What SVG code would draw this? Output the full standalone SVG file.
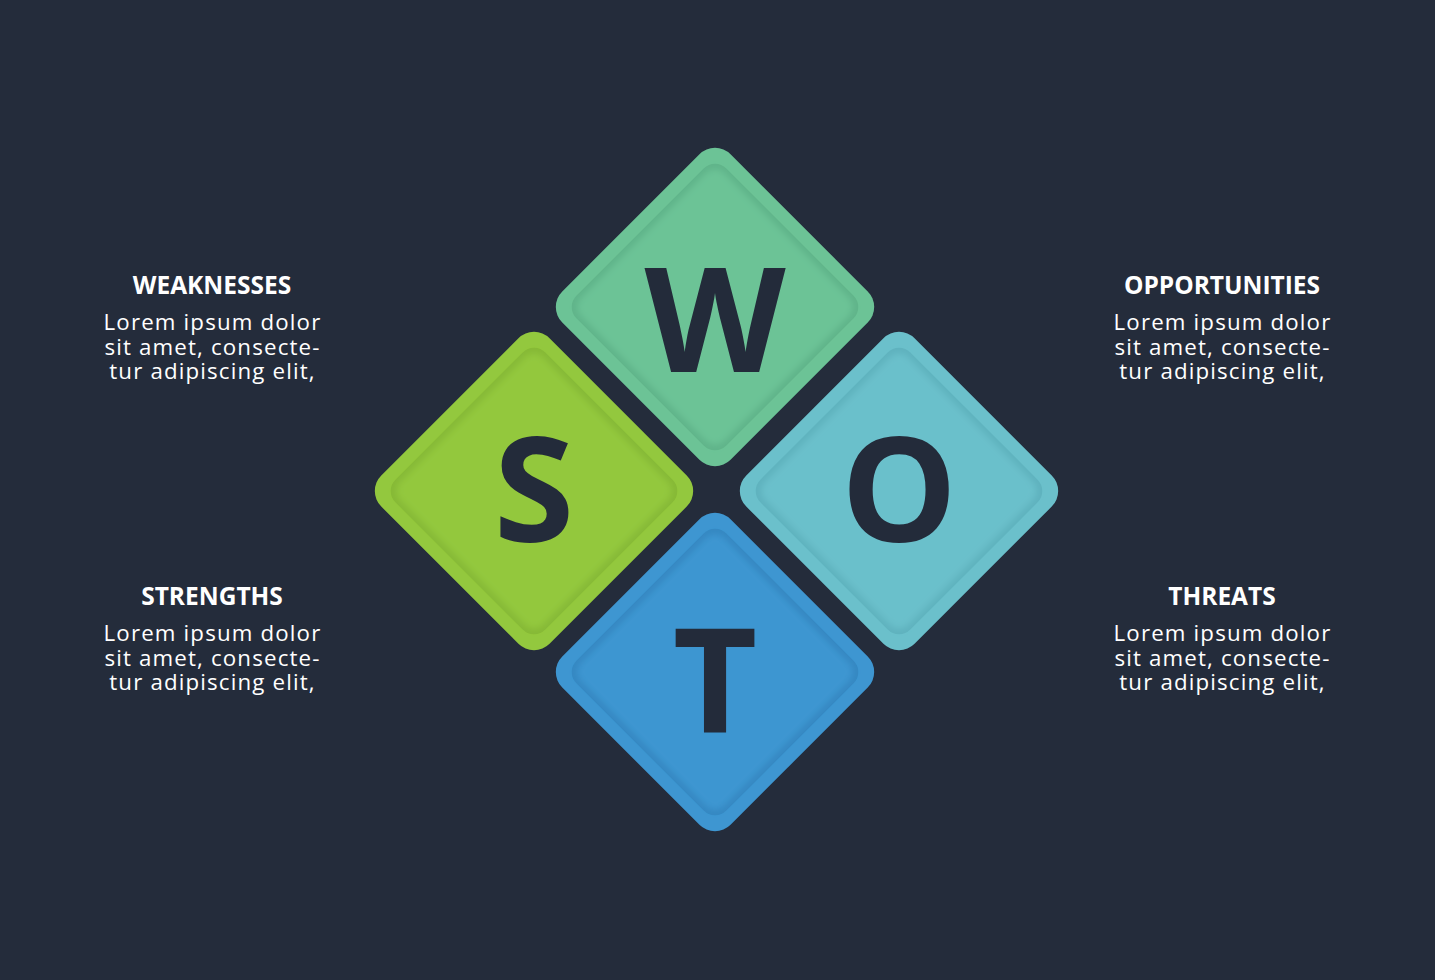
<svg xmlns="http://www.w3.org/2000/svg" width="1435" height="980" viewBox="0 0 1435 980">
<defs>
<filter id="soft" x="-10%" y="-10%" width="120%" height="120%"><feGaussianBlur stdDeviation="3"/></filter>
<style>
.bg{fill:#242c3b}
.letter{font-family:"Open Sans","Liberation Sans",sans-serif;font-weight:700;font-size:146px;fill:#232b3a;text-anchor:middle}
.head{font-family:"Open Sans","Liberation Sans",sans-serif;font-weight:700;font-size:24.5px;fill:#ffffff;text-anchor:middle}
.body{font-family:"Open Sans","Liberation Sans",sans-serif;font-weight:400;font-size:22.3px;letter-spacing:1.15px;fill:#ffffff;text-anchor:middle}
</style>
</defs>
<rect class="bg" x="0" y="0" width="1435" height="980"/>

<g id="node-w">
<rect x="-119" y="-119" width="238" height="238" rx="22" fill="#6cc396" transform="translate(715,307) rotate(45)"/>
<rect x="-106" y="-106" width="212" height="212" rx="16" fill="#60b48a" transform="translate(715,307) rotate(45)"/>
<rect x="-101" y="-101" width="202" height="202" rx="13" fill="#6cc396" filter="url(#soft)" transform="translate(715,307) rotate(45)"/>
<text class="letter" x="715" y="372">W</text>
</g>

<g id="node-s">
<rect x="-119" y="-119" width="238" height="238" rx="22" fill="#93c83e" transform="translate(534,491) rotate(45)"/>
<rect x="-106" y="-106" width="212" height="212" rx="16" fill="#86b936" transform="translate(534,491) rotate(45)"/>
<rect x="-101" y="-101" width="202" height="202" rx="13" fill="#93c83e" filter="url(#soft)" transform="translate(534,491) rotate(45)"/>
<text class="letter" x="534" y="542">S</text>
</g>

<g id="node-o">
<rect x="-119" y="-119" width="238" height="238" rx="22" fill="#6bc0cb" transform="translate(899,491) rotate(45)"/>
<rect x="-106" y="-106" width="212" height="212" rx="16" fill="#5fb2be" transform="translate(899,491) rotate(45)"/>
<rect x="-101" y="-101" width="202" height="202" rx="13" fill="#6bc0cb" filter="url(#soft)" transform="translate(899,491) rotate(45)"/>
<text class="letter" x="899" y="542">O</text>
</g>

<g id="node-t">
<rect x="-119" y="-119" width="238" height="238" rx="22" fill="#3e96d1" transform="translate(715,672) rotate(45)"/>
<rect x="-106" y="-106" width="212" height="212" rx="16" fill="#3588c2" transform="translate(715,672) rotate(45)"/>
<rect x="-101" y="-101" width="202" height="202" rx="13" fill="#3e96d1" filter="url(#soft)" transform="translate(715,672) rotate(45)"/>
<text class="letter" x="715" y="733">T</text>
</g>

<g id="label-weaknesses">
<text class="head" x="212" y="294">WEAKNESSES</text>
<text class="body" x="212.5" y="330"><tspan x="212.5" y="330">Lorem ipsum dolor</tspan><tspan x="212.5" y="354.5">sit amet, consecte-</tspan><tspan x="212.5" y="379">tur adipiscing elit,</tspan></text>
</g>

<g id="label-opportunities">
<text class="head" x="1222" y="294">OPPORTUNITIES</text>
<text class="body" x="1222.5" y="330"><tspan x="1222.5" y="330">Lorem ipsum dolor</tspan><tspan x="1222.5" y="354.5">sit amet, consecte-</tspan><tspan x="1222.5" y="379">tur adipiscing elit,</tspan></text>
</g>

<g id="label-strengths">
<text class="head" x="212" y="605">STRENGTHS</text>
<text class="body" x="212.5" y="641"><tspan x="212.5" y="641">Lorem ipsum dolor</tspan><tspan x="212.5" y="665.5">sit amet, consecte-</tspan><tspan x="212.5" y="690">tur adipiscing elit,</tspan></text>
</g>

<g id="label-threats">
<text class="head" x="1222" y="605">THREATS</text>
<text class="body" x="1222.5" y="641"><tspan x="1222.5" y="641">Lorem ipsum dolor</tspan><tspan x="1222.5" y="665.5">sit amet, consecte-</tspan><tspan x="1222.5" y="690">tur adipiscing elit,</tspan></text>
</g>

<g id="connectors"></g>
</svg>
